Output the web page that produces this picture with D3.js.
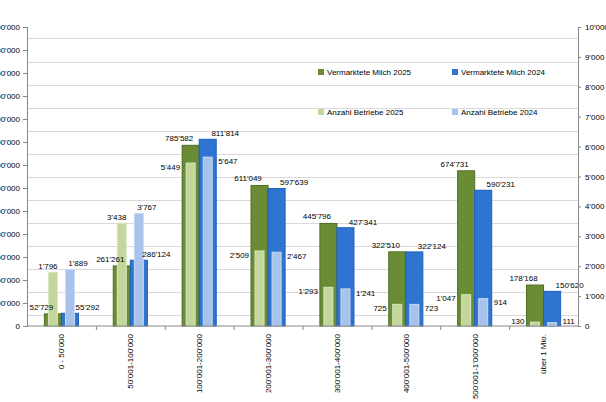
<meta charset="utf-8">
<style>
body { margin: 0; background: #fff; font-family: "Liberation Sans", Arial, sans-serif; }
.axis path, .axis line { stroke: #868686; }
.axis text { font-size: 8px; fill: #000; }
.grid { stroke: #d9d9d9; }
.lbl { font-size: 8px; fill: #000; }
.legend text { font-size: 8px; fill: #000; }
</style>
<body>
<script src="https://cdnjs.cloudflare.com/ajax/libs/d3/7.8.5/d3.min.js"></script>
<script>

var categories = ["0 - 50'000", "50'001-100'000", "100'001-200'000", "200'001-300'000",
  "300'001-400'000", "400'001-500'000", "500'001-1'000'000", "über 1 Mio."];
var milch2025 = [52729, 261261, 785582, 611049, 445796, 322510, 674731, 178168];
var milch2024 = [55292, 286124, 811814, 597639, 427341, 322124, 590231, 150620];
var betriebe2025 = [1796, 3438, 5449, 2509, 1293, 725, 1047, 130];
var betriebe2024 = [1889, 3767, 5647, 2467, 1241, 723, 914, 111];
var leftTicks = d3.range(0, 1300001, 100000);
var rightTicks = d3.range(0, 10001, 1000);

var width = 606, height = 402;
var plotLeft = 27, plotRight = 578, plotTop = 27, plotBottom = 326;

var fmt = d3.formatLocale({decimal: ".", thousands: "'", grouping: [3], currency: ["", ""]}).format(",d");

var svg = d3.select("body").append("svg")
    .attr("width", width)
    .attr("height", height);

var x0 = d3.scaleBand().domain(categories).range([plotLeft, plotRight]);
var x1 = d3.scaleBand().domain(["a", "b"]).range([0, x0.bandwidth()]).paddingInner(0).paddingOuter(1.02);
var yL = d3.scaleLinear().domain([0, 1300000]).range([plotBottom, plotTop]);
var yR = d3.scaleLinear().domain([0, 10000]).range([plotBottom, plotTop]);

// gridlines sit half way between the ticks, as in the original
svg.selectAll("line.grid")
    .data(leftTicks.slice(0, -1))
  .enter().append("line")
    .attr("class", "grid")
    .attr("x1", plotLeft).attr("x2", plotRight)
    .attr("y1", function(d) { return Math.round(yL(d + 50000)) + 0.5; })
    .attr("y2", function(d) { return Math.round(yL(d + 50000)) + 0.5; });

var rows = categories.map(function(c, i) {
  return {c: c, m25: milch2025[i], m24: milch2024[i], b25: betriebe2025[i], b24: betriebe2024[i]};
});

var bw = x1.bandwidth();
var lw = 9;

var g = svg.selectAll("g.cat")
    .data(rows)
  .enter().append("g")
    .attr("class", "cat")
    .attr("transform", function(d) { return "translate(" + x0(d.c) + ",0)"; });

g.append("rect")
    .attr("x", x1("a")).attr("width", bw)
    .attr("y", function(d) { return yL(d.m25); })
    .attr("height", function(d) { return plotBottom - yL(d.m25); })
    .attr("fill", "#6a8c35").attr("stroke", "#4e6d24").attr("stroke-width", 1);

g.append("rect")
    .attr("x", x1("b")).attr("width", bw)
    .attr("y", function(d) { return yL(d.m24); })
    .attr("height", function(d) { return plotBottom - yL(d.m24); })
    .attr("fill", "#2f74d0").attr("stroke", "#1f5fc0").attr("stroke-width", 1);

g.append("rect")
    .attr("x", x1("a") + bw / 2 - lw / 2).attr("width", lw)
    .attr("y", function(d) { return yR(d.b25); })
    .attr("height", function(d) { return plotBottom - yR(d.b25); })
    .attr("fill", "#c3d69b").attr("stroke", "#dbe7c2").attr("stroke-width", 1);

g.append("rect")
    .attr("x", x1("b") + bw / 2 - lw / 2).attr("width", lw)
    .attr("y", function(d) { return yR(d.b24); })
    .attr("height", function(d) { return plotBottom - yR(d.b24); })
    .attr("fill", "#a7c3eb").attr("stroke", "#c8daf3").attr("stroke-width", 1);

// data labels
g.append("text").attr("class", "lbl")
    .attr("x", x1("a") - 3)
    .attr("y", function(d) { return yL(d.m25) - 7; })
    .attr("dy", "0.35em").attr("text-anchor", "middle")
    .text(function(d) { return fmt(d.m25); });

g.append("text").attr("class", "lbl")
    .attr("x", x1("b") + bw + 9)
    .attr("y", function(d) { return yL(d.m24) - 6; })
    .attr("dy", "0.35em").attr("text-anchor", "middle")
    .text(function(d) { return fmt(d.m24); });

g.append("text").attr("class", "lbl")
    .attr("x", function(d) {
      return yR(d.b25) < yL(d.m25) - 10 ? x1("a") + bw / 2 - 5 : x1("a") + bw / 2 - lw / 2 - 6;
    })
    .attr("y", function(d) {
      return yR(d.b25) < yL(d.m25) - 10 ? yR(d.b25) - 6 : Math.min(yR(d.b25) + 4, 321);
    })
    .attr("dy", "0.35em")
    .attr("text-anchor", function(d) { return yR(d.b25) < yL(d.m25) - 10 ? "middle" : "end"; })
    .text(function(d) { return fmt(d.b25); });

g.append("text").attr("class", "lbl")
    .attr("x", function(d) {
      return yR(d.b24) < yL(d.m24) - 10 ? x1("b") + bw / 2 + 8 : x1("b") + bw / 2 + lw / 2 + 6;
    })
    .attr("y", function(d) {
      return yR(d.b24) < yL(d.m24) - 10 ? yR(d.b24) - 6 : Math.min(yR(d.b24) + 4, 321);
    })
    .attr("dy", "0.35em")
    .attr("text-anchor", function(d) { return yR(d.b24) < yL(d.m24) - 10 ? "middle" : "start"; })
    .text(function(d) { return fmt(d.b24); });

// axes
svg.append("g")
    .attr("class", "axis")
    .attr("transform", "translate(" + plotLeft + ",0)")
    .call(d3.axisLeft(yL).tickValues(leftTicks).tickFormat(fmt).tickSize(4).tickPadding(3));

svg.append("g")
    .attr("class", "axis")
    .attr("transform", "translate(" + plotRight + ",0)")
    .call(d3.axisRight(yR).tickValues(rightTicks).tickFormat(fmt).tickSize(3).tickPadding(4));

var xAxis = svg.append("g")
    .attr("class", "axis")
    .attr("transform", "translate(0," + plotBottom + ")");
xAxis.append("line")
    .attr("x1", plotLeft).attr("x2", plotRight)
    .attr("stroke", "#868686");
xAxis.selectAll("line.tk")
    .data(categories.slice(1))
  .enter().append("line")
    .attr("class", "tk")
    .attr("x1", function(d) { return x0(d) + 0.5; })
    .attr("x2", function(d) { return x0(d) + 0.5; })
    .attr("y1", 0).attr("y2", 4)
    .attr("stroke", "#868686");
xAxis.selectAll("text")
    .data(categories)
  .enter().append("text")
    .attr("transform", function(d) {
      return "translate(" + (x0(d) + x0.bandwidth() / 2) + ",8) rotate(-90)";
    })
    .attr("text-anchor", "end")
    .attr("dy", "0.35em")
    .text(function(d) { return d; });

// legend
var legendItems = [
  {name: "Vermarktete Milch 2025", color: "#6a8c35", x: 318, y: 72},
  {name: "Vermarktete Milch 2024", color: "#2f74d0", x: 452, y: 72},
  {name: "Anzahl Betriebe 2025", color: "#c3d69b", x: 318, y: 112},
  {name: "Anzahl Betriebe 2024", color: "#a7c3eb", x: 452, y: 112}
];

var lg = svg.selectAll("g.legend")
    .data(legendItems)
  .enter().append("g")
    .attr("class", "legend")
    .attr("transform", function(d) { return "translate(" + d.x + "," + d.y + ")"; });
lg.append("rect")
    .attr("x", 0).attr("y", -3).attr("width", 6).attr("height", 6)
    .attr("fill", function(d) { return d.color; });
lg.append("text")
    .attr("x", 9).attr("dy", "0.35em")
    .text(function(d) { return d.name; });

</script>
</body>
